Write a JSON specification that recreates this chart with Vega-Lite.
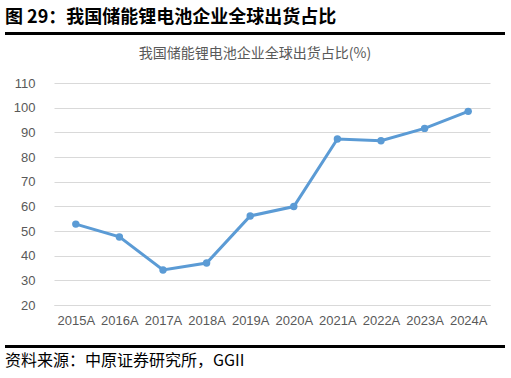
{
  "$schema": "https://vega.github.io/schema/vega-lite/v6.json",
  "padding": {"left": 5, "top": 9, "right": 6, "bottom": 5},
  "spacing": 12,
  "config": {"view": {"stroke": null}, "font": "Noto Sans CJK SC"},
  "vconcat": [
    {
      "width": 451,
      "height": 3,
      "data": {"values": [{}]},
      "title": {"text": "图 29：我国储能锂电池企业全球出货占比", "anchor": "start", "fontSize": 18, "fontWeight": "bold", "color": "#000000", "offset": 5, "font": "Noto Sans CJK SC"},
      "mark": {"type": "rect", "color": "#000000"},
      "encoding": {
        "x": {"datum": 0, "type": "quantitative", "scale": {"domain": [0, 1], "range": [-49, 451]}, "axis": null},
        "x2": {"datum": 1}
      }
    },
    {
      "width": 436,
      "height": 222,
      "data": {"values": [
        {"year": "2015A", "share": 52.8},
        {"year": "2016A", "share": 47.6},
        {"year": "2017A", "share": 34.2},
        {"year": "2018A", "share": 37.0},
        {"year": "2019A", "share": 56.1},
        {"year": "2020A", "share": 59.9},
        {"year": "2021A", "share": 87.3},
        {"year": "2022A", "share": 86.6},
        {"year": "2023A", "share": 91.6},
        {"year": "2024A", "share": 98.5}
      ]},
      "title": {"text": "我国储能锂电池企业全球出货占比(%)", "anchor": "middle", "fontSize": 14, "fontWeight": "normal", "color": "#595959", "offset": 16, "dx": -17, "font": "Noto Sans CJK SC"},
      "encoding": {
        "x": {"field": "year", "type": "nominal", "scale": {"type": "point", "padding": 0.5},
              "axis": {"title": null, "labelAngle": 0, "ticks": false, "domain": true, "domainColor": "#D9D9D9", "grid": false, "labelFont": "Liberation Sans", "labelFontSize": 13, "labelColor": "#595959", "labelPadding": 9, "minExtent": 28}},
        "y": {"field": "share", "type": "quantitative", "scale": {"domain": [20, 110], "nice": false, "zero": false},
              "axis": {"title": null, "values": [20, 30, 40, 50, 60, 70, 80, 90, 100, 110], "ticks": false, "domain": false, "gridColor": "#D9D9D9", "gridWidth": 1, "labelFont": "Liberation Sans", "labelFontSize": 13, "labelColor": "#595959", "labelPadding": 19, "minExtent": 49}}
      },
      "layer": [
        {"mark": {"type": "line", "color": "#5B9BD5", "strokeWidth": 3}},
        {"mark": {"type": "point", "filled": true, "color": "#5B9BD5", "opacity": 1, "size": 55}}
      ]
    },
    {
      "width": 451,
      "height": 3,
      "data": {"values": [{}]},
      "title": {"text": "资料来源：中原证券研究所，GGII", "orient": "bottom", "anchor": "start", "fontSize": 16, "fontWeight": "normal", "color": "#000000", "offset": 5, "font": "Noto Sans CJK SC"},
      "mark": {"type": "rect", "color": "#000000"},
      "encoding": {
        "x": {"datum": 0, "type": "quantitative", "scale": {"domain": [0, 1], "range": [-49, 451]}, "axis": null},
        "x2": {"datum": 1}
      }
    }
  ]
}
